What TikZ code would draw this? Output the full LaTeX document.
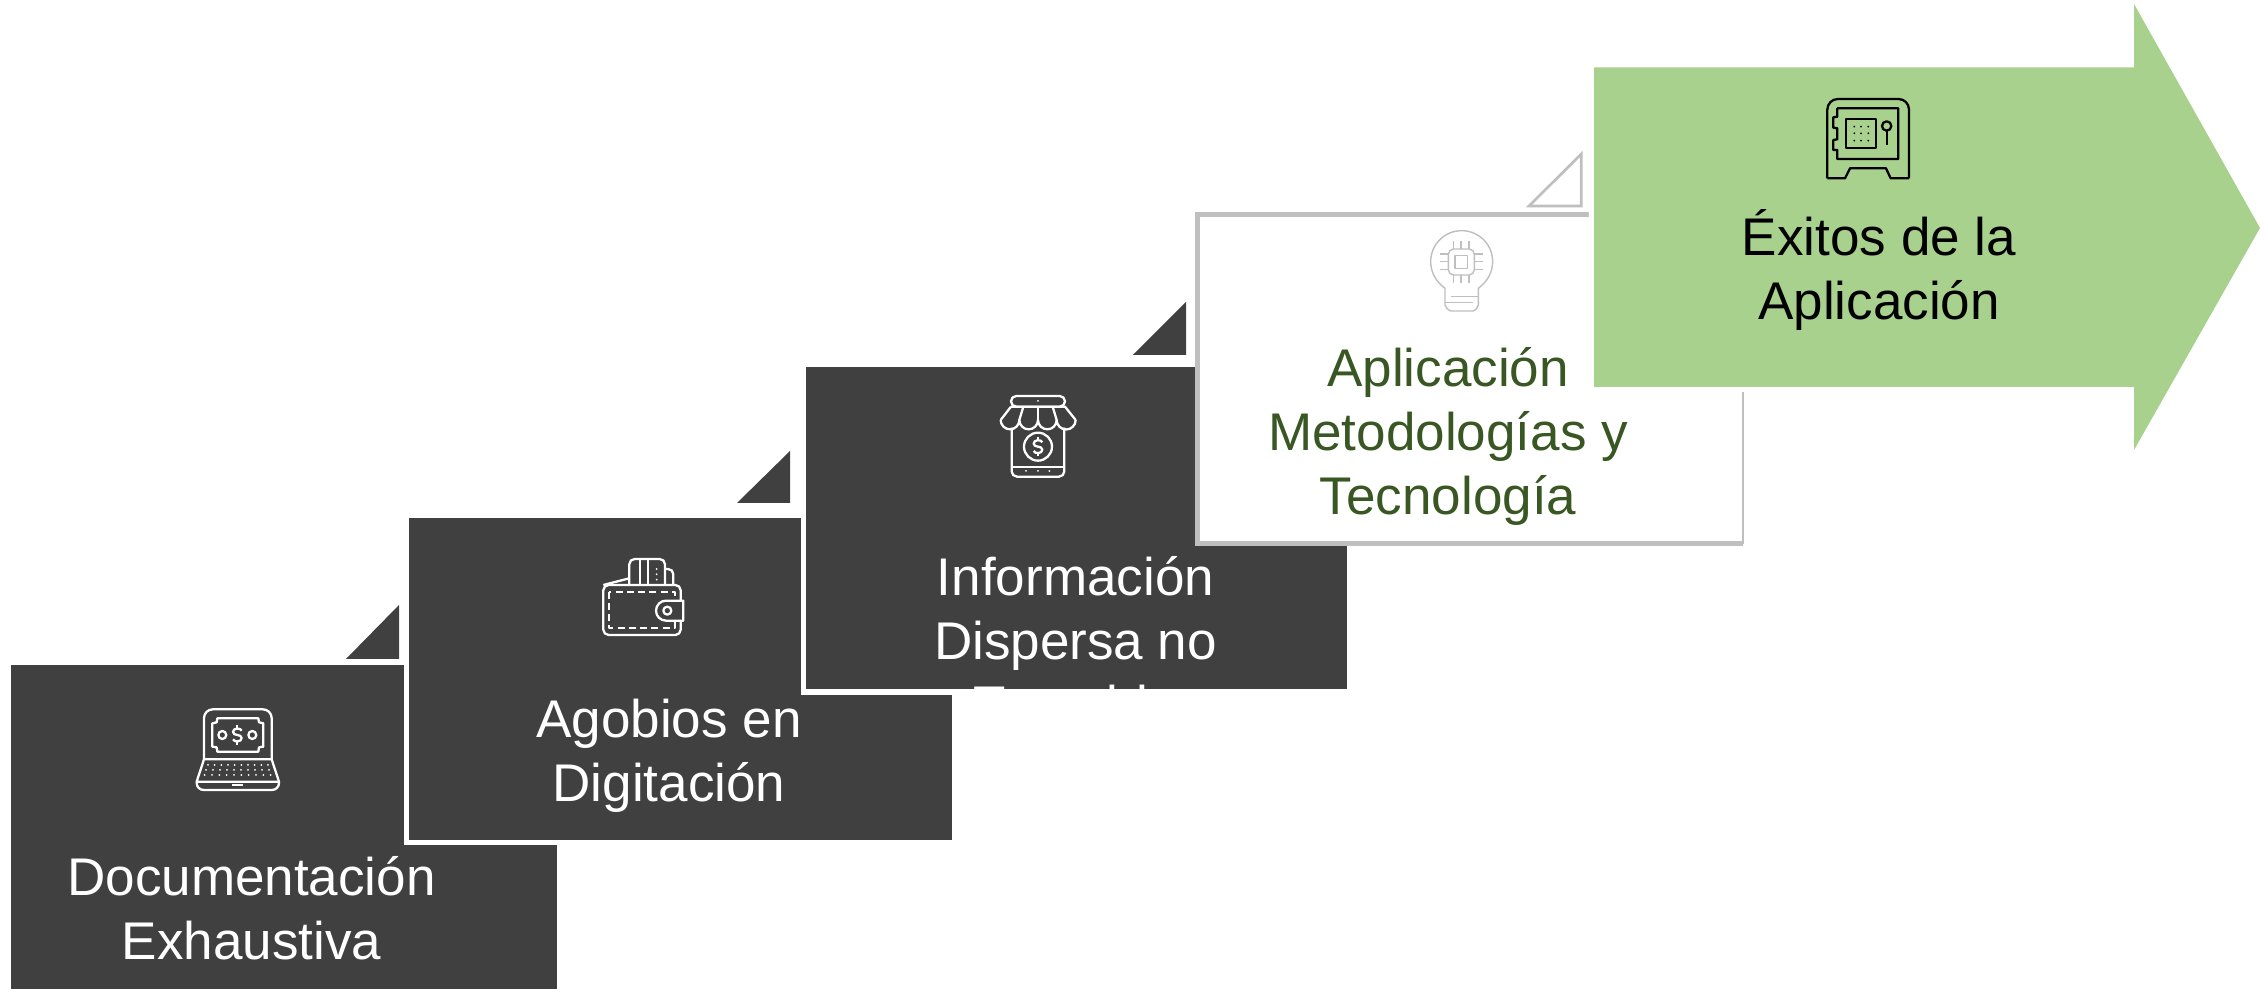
\documentclass[tikz,border=0pt]{standalone}
\usepackage{fontspec}
\setmainfont{Liberation Sans}
\definecolor{boxgrey}{HTML}{404040}
\definecolor{edgegrey}{HTML}{BFBFBF}
\definecolor{arrowgreen}{HTML}{A9D18E}
\definecolor{textgreen}{HTML}{385723}
\tikzset{
  dollarmark/.pic={
    \draw (13,-13) .. controls (10,-22) and (-13,-22) .. (-13,-9) .. controls (-13,4) and (13,-4) .. (13,9) .. controls (13,22) and (-10,22) .. (-13,13);
    \draw (0,-29) -- (0,-19);
    \draw (0,19) -- (0,29);
  }
}
\begin{document}
\begin{tikzpicture}[x=0.01cm, y=-0.01cm,
    stepbox/.style = {rectangle, anchor=north west, inner sep=0pt, fill=boxgrey, preaction={draw=white, line width=3.13pt}},
    corner/.style = {fill=boxgrey},
    label/.style = {align=center, anchor=base, font=\fontsize{15.08}{18.2}\selectfont},
    iconscope/.style = {x=0.01cm/3, y=-0.01cm/3, line width=0.65pt, line join=round},
    whiteicon/.style = {iconscope, color=white}]
    \useasboundingbox (0,0) rectangle (2265,989);

    \node[stepbox, minimum width=5.46cm, minimum height=3.25cm] (docbox) at (10,664) {};
    \node[stepbox, minimum width=5.42cm, minimum height=3.22cm] (agobox) at (408.5,517) {};
    \node[stepbox, minimum width=5.4cm, minimum height=3.22cm] (infbox) at (805.5,366.5) {};
    \node[anchor=north west, inner sep=0pt, fill=white, minimum width=5.44cm, minimum height=3.275cm] (appbox) at (1197.5,214.5) {};
    \draw[edgegrey, line width=1.5pt] (appbox.north east) -- (appbox.north west) -- (appbox.south west) -- (appbox.south east);
    \draw[edgegrey, line width=0.6pt] (appbox.south east) -- (appbox.north east);

    \fill[corner] (399,605) -- (346,659) -- (399,659) -- cycle;
    \fill[corner] (790,451) -- (737,503) -- (790,503) -- cycle;
    \fill[corner] (1186,302) -- (1133,355) -- (1186,355) -- cycle;
    \draw[edgegrey, line width=0.75pt] (1581.3,154) -- (1529,206) -- (1581.3,206) -- cycle;

    \path[fill=arrowgreen, preaction={draw=white, line width=2.85pt}]
      (1594,67.5) -- (2134,67.5) -- (2134,4) -- (2260,228) -- (2134,450) -- (2134,387) -- (1594,387) -- cycle;

    \node[label, text=white] (doctext) at (251.5,960) {Documentación\\Exhaustiva};
    \node[label, text=white] (agotext) at (669,802) {Agobios en\\Digitación};
    \node[label, text=white] (inftext) at (1075.5,724) {Información\\Dispersa no\\Trazable};
    \node[label, text=textgreen] (apptext) at (1448,514.5) {Aplicación\\Metodologías y\\Tecnología};
    \node[label, text=black] (exitext) at (1879,320) {Éxitos de la\\Aplicación};

    \begin{scope}[shift={(180,690)}, whiteicon]
      \draw[rounded corners=2.5pt] (72,208) -- (72,58) -- (275,58) -- (275,208);
      \draw (97,100) -- (110,97) -- (112,85) -- (235,85) -- (237,97) -- (250,100) -- (250,170) -- (237,172) -- (235,185) -- (112,185) -- (110,172) -- (97,170) -- cycle;
      \draw (127,135) circle (12);
      \draw (217,135) circle (12);
      \pic at (172,135) {dollarmark};
      \draw (72,208) -- (275,208) -- (297,275) -- (50,275) -- cycle;
      \draw[rounded corners=2pt] (50,275) -- (50,300) -- (297,300) -- (297,275);
      \draw (155,284) -- (190,284);
      \foreach \kx in {0,...,9} {
        \fill (84+\kx*20,225) circle (3);
        \fill (78+\kx*21,240) circle (3);
        \fill (74+\kx*22,255) circle (3);
      }
    \end{scope}

    \begin{scope}[shift={(590,545)}, whiteicon]
      \draw[rounded corners=1.5pt] (40,120) rectangle (272,270);
      \draw[dash pattern=on 2pt off 1.2pt] (58,140) rectangle (255,250);
      \draw[fill=boxgrey] (280,167) -- (228,167) arc[start angle=270, end angle=90, radius=30] -- (280,227) -- cycle;
      \draw (232,197) circle (12);
      \draw[rounded corners=1.5pt] (118,120) -- (118,42) -- (225,42) -- (225,120);
      \draw (150,42) -- (150,120);
      \draw (175,42) -- (175,120);
      \fill (200,72) circle (3);
      \fill (200,88) circle (3);
      \fill (200,104) circle (3);
      \draw[rounded corners=1.5pt] (225,72) -- (250,72) -- (250,120);
      \draw (40,120) -- (118,100);
    \end{scope}

    \begin{scope}[shift={(990,385)}, whiteicon]
      \draw[rounded corners=1.5pt] (63,65) -- (63,33) -- (225,33) -- (225,65) -- cycle;
      \fill (144,48) circle (3);
      \draw (63,65) -- (225,65) -- (257,105);
      \draw (63,65) -- (32,105);
      \draw (32,105) arc[start angle=180, end angle=0, radius=28] arc[start angle=180, end angle=0, radius=28] arc[start angle=180, end angle=0, radius=28] arc[start angle=180, end angle=0, radius=28.5];
      \draw (100,65) -- (88,105);
      \draw (144,65) -- (144,105);
      \draw (188,65) -- (200,105);
      \draw[rounded corners=1.5pt] (65,128) -- (65,275) -- (223,275) -- (223,128);
      \draw (65,245) -- (223,245);
      \fill (108,258) circle (3);
      \fill (144,258) circle (3);
      \fill (178,258) circle (3);
      \draw (144,185) circle (42);
      \pic at (144,185) {dollarmark};
    \end{scope}

    \begin{scope}[shift={(1420,225)}, iconscope, draw=edgegrey, double=textgreen, double distance=0.3pt, line width=0.4pt]
      \draw (75,190) .. controls (48,170) and (32,142) .. (32,110) arc[start angle=180, end angle=360, radius=93] .. controls (218,142) and (202,170) .. (175,190) -- (175,240) .. controls (172,250) and (168,255) .. (160,258) -- (92,258) .. controls (84,255) and (78,250) .. (75,240) -- cycle;
      \draw (92,215) -- (175,215);
      \draw (75,232) -- (160,232);
      \draw[rounded corners=1.5pt] (85,72) rectangle (163,150);
      \draw (105,92) rectangle (142,130);
      \foreach \pn in {0,1,2} {
        \draw (100+\pn*23.5,47) -- (100+\pn*23.5,72);
        \draw (100+\pn*23.5,150) -- (100+\pn*23.5,175);
        \draw (60,87+\pn*23) -- (85,87+\pn*23);
        \draw (163,87+\pn*23) -- (188,87+\pn*23);
      }
    \end{scope}

    \begin{scope}[shift={(1810,90)}, iconscope, color=black]
      \draw[rounded corners=3pt] (52,265) -- (52,27) -- (297,27) -- (297,265);
      \draw (52,265) -- (105,265) -- (120,235) -- (228,235) -- (242,265) -- (297,265);
      \draw (82,80) -- (82,55) -- (265,55) -- (265,207) -- (82,207) -- (82,180) -- (70,180) -- (70,150) -- (82,148) -- (82,115) -- (70,113) -- (70,82) -- cycle;
      \draw (108,87) rectangle (197,175);
      \foreach \dy in {110,130,152} {
        \fill (133,\dy) circle (3);
        \fill (153,\dy) circle (3);
        \fill (175,\dy) circle (3);
      }
      \draw (230,108) circle (14);
      \draw (230,122) -- (230,165);
    \end{scope}
  \end{tikzpicture}
\end{document}
